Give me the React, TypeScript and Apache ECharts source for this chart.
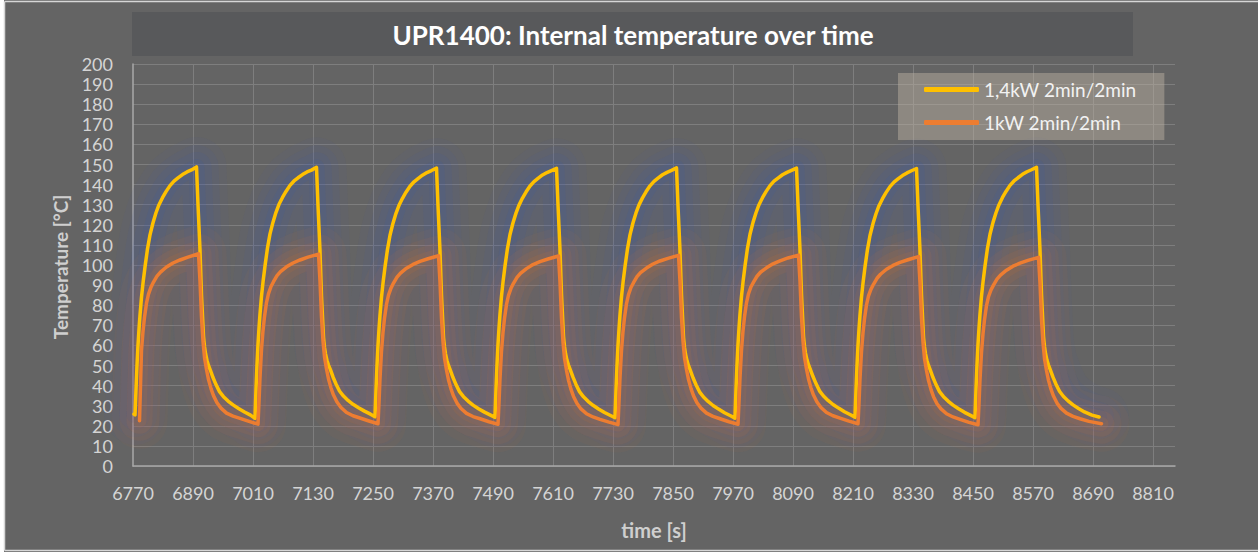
import { useEffect, useRef } from "react";
import * as echarts from "echarts";

const TITLE = "UPR1400: Internal temperature over time";
const SERIES_NAMES = ["1,4kW 2min/2min", "1kW 2min/2min"];
const SERIES_COLORS = ["#FFC000", "#ED7D31"];
const GLOW_COLORS = ["rgba(60,92,175,", "rgba(220,115,50,"];
const X_NAME = "time [s]";
const Y_NAME = "Temperature [°C]";
const X_MIN = 6770;
const X_MAX = 8854;
const X_STEP = 120;
const Y_MIN = 0;
const Y_MAX = 200;
const Y_STEP = 10;

// 1,4kW 2min/2min  [time s, temperature °C]
const yellowData: [number, number][] = [
  [6772, 25.8], [6774, 25.4], [6776, 38], [6778, 50], [6780, 60], [6782, 68], [6784, 75], [6787, 84], [6790, 91], [6794, 99], [6799, 108], [6804, 115], [6810, 121], [6816, 126], [6822, 130], [6829, 133.5], [6836, 136.5], [6844, 139.5], [6852, 141.7], [6860, 143.3], [6869, 145], [6878, 146.3], [6887, 147.3], [6897, 148.8], [6900, 130], [6904, 107.5], [6907, 85], [6911, 64.5], [6913, 59.5], [6915, 56], [6918, 52.5], [6921, 50], [6925, 47.5], [6930, 44], [6936, 40.5], [6943, 37], [6951, 34.5], [6960, 32.3], [6970, 30.4], [6981, 28.6], [6993, 26.9], [7005, 25.3], [7014, 23.7],
  [7016, 38.5], [7018, 50.5], [7020, 60.5], [7022, 68.5], [7024, 75.5], [7027, 84.5], [7030, 91.5], [7034, 99.5], [7039, 108.5], [7044, 115.5], [7050, 121.3], [7056, 126.2], [7062, 130.2], [7069, 133.6], [7076, 136.6], [7084, 139.6], [7092, 141.8], [7100, 143.4], [7109, 145], [7118, 146.3], [7127, 147.2], [7137, 148.6], [7140, 129.5], [7144, 107], [7147, 84.5], [7151, 64], [7153, 59], [7155, 55.8], [7158, 52.5], [7161, 50.2], [7165, 47.8], [7170, 44.3], [7176, 40.8], [7183, 37.3], [7191, 34.8], [7200, 32.6], [7210, 30.7], [7221, 29], [7233, 27.3], [7245, 25.8], [7254, 24.5],
  [7256, 38], [7258, 50], [7260, 60], [7262, 68], [7264, 75], [7267, 84], [7270, 91], [7274, 99], [7279, 107.8], [7284, 114.8], [7290, 120.8], [7296, 125.7], [7302, 129.7], [7309, 133.2], [7316, 136.2], [7324, 139.2], [7332, 141.4], [7340, 143], [7349, 144.7], [7358, 146], [7367, 147], [7377, 148.2], [7380, 129.5], [7384, 107], [7387, 85], [7391, 64], [7393, 59.2], [7395, 55.8], [7398, 52.4], [7401, 50], [7405, 47.4], [7410, 44], [7416, 40.5], [7423, 37], [7431, 34.5], [7440, 32.3], [7450, 30.3], [7461, 28.5], [7473, 26.8], [7485, 25.3], [7494, 24.2],
  [7496, 38.5], [7498, 50.5], [7500, 60.5], [7502, 68.5], [7504, 75.5], [7507, 84.5], [7510, 91.5], [7514, 99.5], [7519, 108.3], [7524, 115.2], [7530, 121], [7536, 125.8], [7542, 129.8], [7549, 133.3], [7556, 136.3], [7564, 139.3], [7572, 141.5], [7580, 143.1], [7589, 144.8], [7598, 146], [7607, 147], [7617, 148.1], [7620, 130], [7624, 107.5], [7627, 85.5], [7631, 64.5], [7633, 59.5], [7635, 56], [7638, 52.6], [7641, 50.2], [7645, 47.6], [7650, 44.2], [7656, 40.6], [7663, 37], [7671, 34.4], [7680, 32.2], [7690, 30.2], [7701, 28.4], [7713, 26.6], [7725, 25.1], [7734, 24],
  [7736, 38], [7738, 50], [7740, 60], [7742, 68], [7744, 75.2], [7747, 84.2], [7750, 91.2], [7754, 99.2], [7759, 108], [7764, 115], [7770, 121], [7776, 125.9], [7782, 129.9], [7789, 133.4], [7796, 136.4], [7804, 139.4], [7812, 141.6], [7820, 143.2], [7829, 144.9], [7838, 146.1], [7847, 147.1], [7857, 148.3], [7860, 129.5], [7864, 107], [7867, 85], [7871, 64], [7873, 59], [7875, 55.6], [7878, 52.3], [7881, 49.9], [7885, 47.3], [7890, 43.9], [7896, 40.4], [7903, 36.9], [7911, 34.3], [7920, 32.1], [7930, 30.1], [7941, 28.3], [7953, 26.5], [7965, 25], [7974, 23.8],
  [7976, 38.5], [7978, 50.5], [7980, 60.5], [7982, 68.5], [7984, 75.5], [7987, 84.5], [7990, 91.5], [7994, 99.5], [7999, 108.4], [8004, 115.3], [8010, 121.2], [8016, 126], [8022, 130], [8029, 133.5], [8036, 136.5], [8044, 139.5], [8052, 141.7], [8060, 143.2], [8069, 144.9], [8078, 146.1], [8087, 147.1], [8097, 148.2], [8100, 130], [8104, 107.5], [8107, 85.5], [8111, 64.5], [8113, 59.6], [8115, 56.2], [8118, 52.8], [8121, 50.4], [8125, 47.8], [8130, 44.5], [8136, 41], [8143, 37.4], [8151, 34.8], [8160, 32.6], [8170, 30.6], [8181, 28.8], [8193, 27], [8205, 25.5], [8214, 24.2],
  [8216, 38], [8218, 50], [8220, 60], [8222, 68], [8224, 75], [8227, 84], [8230, 91], [8234, 99], [8239, 107.8], [8244, 114.7], [8250, 120.6], [8256, 125.5], [8262, 129.5], [8269, 133], [8276, 136], [8284, 139], [8292, 141.2], [8300, 142.8], [8309, 144.5], [8318, 145.8], [8327, 146.9], [8337, 148], [8340, 129.5], [8344, 107], [8347, 85], [8351, 64], [8353, 59.2], [8355, 55.8], [8358, 52.4], [8361, 50], [8365, 47.4], [8370, 44], [8376, 40.5], [8383, 37], [8391, 34.5], [8400, 32.3], [8410, 30.3], [8421, 28.5], [8433, 26.7], [8445, 25.2], [8454, 24],
  [8456, 38.5], [8458, 50.5], [8460, 60.5], [8462, 68.5], [8464, 75.5], [8467, 84.5], [8470, 91.5], [8474, 99.5], [8479, 108.4], [8484, 115.3], [8490, 121.2], [8496, 126], [8502, 130], [8509, 133.6], [8516, 136.6], [8524, 139.6], [8532, 141.8], [8540, 143.4], [8549, 145.1], [8558, 146.4], [8567, 147.4], [8577, 148.6], [8580, 130], [8584, 107.5], [8587, 85.5], [8591, 64.5], [8593, 59.5], [8595, 56], [8598, 52.6], [8601, 50.2], [8605, 47.6], [8610, 44.2], [8616, 40.7], [8623, 37.2], [8631, 34.6], [8640, 32.4], [8650, 30.4], [8661, 28.6], [8673, 26.9], [8688, 25.3], [8702, 24.4],
];

// 1kW 2min/2min  [time s, temperature °C]
const orangeData: [number, number][] = [
  [6783, 22.5], [6785, 40], [6787, 57.7], [6790, 67], [6793, 74], [6797, 81], [6801, 85.5], [6806, 89], [6811, 91.5], [6818, 94.5], [6825, 96.5], [6837, 99], [6850, 101], [6864, 102.5], [6880, 103.9], [6901, 105.6], [6904, 92], [6907, 74], [6910, 62], [6913, 54], [6917, 48], [6921, 43], [6926, 38.5], [6931, 35], [6938, 31.5], [6946, 28.8], [6957, 26.3], [6970, 24.8], [6984, 23.7], [7002, 22.2], [7020, 20.8],
  [7022, 32], [7024, 44], [7027, 58], [7030, 67.3], [7033, 74.3], [7037, 81.3], [7041, 85.8], [7046, 89.3], [7051, 91.7], [7058, 94.7], [7065, 96.7], [7077, 99.1], [7090, 101], [7104, 102.5], [7120, 103.9], [7141, 105.4], [7144, 92], [7147, 74], [7150, 62.2], [7153, 54.3], [7157, 48.3], [7161, 43.3], [7166, 38.8], [7171, 35.3], [7178, 31.8], [7186, 29.1], [7197, 26.6], [7210, 25], [7224, 23.9], [7242, 22.4], [7260, 21],
  [7262, 31.5], [7264, 43.5], [7267, 57.2], [7270, 66.5], [7273, 73.5], [7277, 80.5], [7281, 85], [7286, 88.5], [7291, 91], [7298, 94], [7305, 96], [7317, 98.4], [7330, 100.3], [7344, 101.8], [7360, 103.1], [7381, 104.6], [7384, 91.5], [7387, 73.5], [7390, 61.8], [7393, 53.8], [7397, 47.8], [7401, 42.8], [7406, 38.3], [7411, 34.8], [7418, 31.3], [7426, 28.6], [7437, 26.2], [7450, 24.6], [7464, 23.5], [7482, 22], [7500, 20.8],
  [7502, 31.5], [7504, 43.5], [7507, 57.2], [7510, 66.4], [7513, 73.4], [7517, 80.4], [7521, 84.9], [7526, 88.4], [7531, 90.9], [7538, 93.8], [7545, 95.8], [7557, 98.2], [7570, 100.2], [7584, 101.7], [7600, 103], [7621, 104.5], [7624, 91.5], [7627, 73.5], [7630, 61.6], [7633, 53.6], [7637, 47.6], [7641, 42.6], [7646, 38.1], [7651, 34.6], [7658, 31.1], [7666, 28.4], [7677, 26], [7690, 24.4], [7704, 23.2], [7722, 21.8], [7740, 20.6],
  [7742, 32], [7744, 44], [7747, 57.5], [7750, 66.8], [7753, 73.8], [7757, 80.8], [7761, 85.3], [7766, 88.8], [7771, 91.2], [7778, 94.2], [7785, 96.2], [7797, 98.5], [7810, 100.5], [7824, 102], [7840, 103.3], [7861, 104.8], [7864, 91.8], [7867, 73.8], [7870, 62], [7873, 54], [7877, 48], [7881, 43], [7886, 38.5], [7891, 35], [7898, 31.5], [7906, 28.8], [7917, 26.3], [7930, 24.7], [7944, 23.5], [7962, 22], [7980, 20.8],
  [7982, 32], [7984, 44], [7987, 57.8], [7990, 67.2], [7993, 74.2], [7997, 81.2], [8001, 85.7], [8006, 89.2], [8011, 91.5], [8018, 94.4], [8025, 96.4], [8037, 98.6], [8050, 100.6], [8064, 102.1], [8080, 103.5], [8101, 104.9], [8104, 92], [8107, 74], [8110, 62.2], [8113, 54.2], [8117, 48.3], [8121, 43.3], [8126, 38.8], [8131, 35.3], [8138, 31.8], [8146, 29.1], [8157, 26.6], [8170, 25], [8184, 23.8], [8202, 22.3], [8220, 21],
  [8222, 31.5], [8224, 43.5], [8227, 57], [8230, 66.2], [8233, 73.2], [8237, 80.2], [8241, 84.6], [8246, 88], [8251, 90.4], [8258, 93.4], [8265, 95.4], [8277, 97.9], [8290, 99.8], [8304, 101.3], [8320, 102.6], [8341, 104.2], [8344, 91.2], [8347, 73.2], [8350, 61.5], [8353, 53.5], [8357, 47.5], [8361, 42.5], [8366, 38], [8371, 34.5], [8378, 31], [8386, 28.4], [8397, 26], [8410, 24.4], [8424, 23.2], [8442, 21.7], [8460, 20.5],
  [8462, 31], [8464, 43], [8467, 56.5], [8470, 65.8], [8473, 72.8], [8477, 79.8], [8481, 84.2], [8486, 87.6], [8491, 90], [8498, 93], [8505, 95], [8517, 97.4], [8530, 99.4], [8544, 100.9], [8560, 102.3], [8581, 103.8], [8584, 91], [8587, 73], [8590, 61.3], [8593, 53.4], [8597, 47.5], [8601, 42.6], [8606, 38.2], [8611, 34.8], [8618, 31.3], [8626, 28.7], [8637, 26.3], [8650, 24.7], [8664, 23.5], [8682, 22.2], [8707, 21],
];

const FONT = "Lato, 'Noto Sans', sans-serif";
const DATASETS = [yellowData, orangeData];

function glowSeries(idx: number, width: number, alpha: number) {
  return {
    name: `glow-${idx}-${width}`,
    type: "line",
    data: DATASETS[idx],
    showSymbol: false,
    symbol: "none",
    silent: true,
    z: 1,
    lineStyle: { color: GLOW_COLORS[idx] + alpha + ")", width, cap: "round", join: "round" },
  };
}

export default function App() {
  const ref = useRef<HTMLDivElement>(null);
  useEffect(() => {
    if (!ref.current) return;
    const chart = echarts.init(ref.current, null, { renderer: "svg" });
    chart.setOption({
      animation: false,
      backgroundColor: "#646464",
      textStyle: { fontFamily: FONT },
      graphic: [
        { type: "rect", silent: true, shape: { x: 0, y: 0, width: 4, height: 552 }, style: { fill: "#ffffff" } },
        { type: "line", silent: true, shape: { x1: 4.5, y1: 1.5, x2: 1258, y2: 1.5 }, style: { stroke: "#d6d6d6", lineWidth: 1.5 } },
        { type: "line", silent: true, shape: { x1: 4.5, y1: 1.5, x2: 4.5, y2: 550.5 }, style: { stroke: "#d6d6d6", lineWidth: 1.5 } },
        { type: "line", silent: true, shape: { x1: 4.5, y1: 550.5, x2: 1258, y2: 550.5 }, style: { stroke: "#d6d6d6", lineWidth: 1.5 } },
        { type: "rect", silent: true, shape: { x: 132, y: 12, width: 1001, height: 44 }, style: { fill: "#58595b" } },
        {
          type: "text",
          silent: true,
          x: 633,
          y: 35,
          style: {
            text: TITLE,
            fill: "#ffffff",
            font: `bold 26px ${FONT}`,
            textAlign: "center",
            textVerticalAlign: "middle",
          },
        },
        {
          type: "text",
          silent: true,
          x: 60,
          y: 267,
          rotation: Math.PI / 2,
          style: {
            text: Y_NAME,
            fill: "#cfcfcf",
            font: `bold 19px ${FONT}`,
            textAlign: "center",
            textVerticalAlign: "middle",
          },
        },
      ],
      grid: { left: 133, top: 64, width: 1042, height: 402, containLabel: false },
      legend: {
        orient: "vertical",
        left: 898,
        top: 73,
        backgroundColor: "rgba(190,180,165,0.45)",
        padding: [7, 28, 8, 26],
        itemWidth: 55,
        itemHeight: 5,
        itemGap: 14,
        icon: "roundRect",
        textStyle: { color: "#f2f2f2", fontSize: 19, fontFamily: FONT },
        data: SERIES_NAMES,
      },
      xAxis: {
        type: "value",
        min: X_MIN,
        max: X_MAX,
        interval: X_STEP,
        name: X_NAME,
        nameLocation: "middle",
        nameGap: 54,
        nameTextStyle: { color: "#cfcfcf", fontSize: 20, fontWeight: "bold", fontFamily: FONT },
        axisLine: { show: true, lineStyle: { color: "#a8a8a8", width: 1.5 } },
        axisTick: { show: false },
        axisLabel: {
          color: "#d4d4d4",
          fontSize: 18,
          margin: 18,
          showMaxLabel: false,
          fontFamily: FONT,
          formatter: (v: number) => String(v),
        },
        splitLine: { show: true, showMinLine: false, showMaxLine: false, lineStyle: { color: "#7e7e7e", width: 1 } },
      },
      yAxis: {
        type: "value",
        min: Y_MIN,
        max: Y_MAX,
        interval: Y_STEP,
        axisLine: { show: true, lineStyle: { color: "#a8a8a8", width: 1.5 } },
        axisTick: { show: false },
        axisLabel: { color: "#d4d4d4", fontSize: 18, margin: 20, fontFamily: FONT },
        splitLine: { show: true, lineStyle: { color: "#7e7e7e", width: 1 } },
      },
      series: [
        glowSeries(0, 60, 0.06),
        glowSeries(0, 44, 0.08),
        glowSeries(0, 30, 0.1),
        glowSeries(0, 16, 0.12),
        glowSeries(1, 56, 0.05),
        glowSeries(1, 40, 0.07),
        glowSeries(1, 26, 0.09),
        glowSeries(1, 14, 0.11),
        {
          name: SERIES_NAMES[0],
          type: "line",
          data: yellowData,
          showSymbol: false,
          symbol: "none",
          z: 3,
          color: SERIES_COLORS[0],
          lineStyle: { color: SERIES_COLORS[0], width: 3.5, cap: "round", join: "round" },
        },
        {
          name: SERIES_NAMES[1],
          type: "line",
          data: orangeData,
          showSymbol: false,
          symbol: "none",
          z: 3,
          color: SERIES_COLORS[1],
          lineStyle: { color: SERIES_COLORS[1], width: 3.5, cap: "round", join: "round" },
        },
      ],
    });
    return () => chart.dispose();
  }, []);
  return (
    <div style={{ position: "fixed", left: 0, top: 0, width: 1258, height: 552, background: "#ffffff" }}>
      <div ref={ref} style={{ width: 1258, height: 552 }} />
    </div>
  );
}
